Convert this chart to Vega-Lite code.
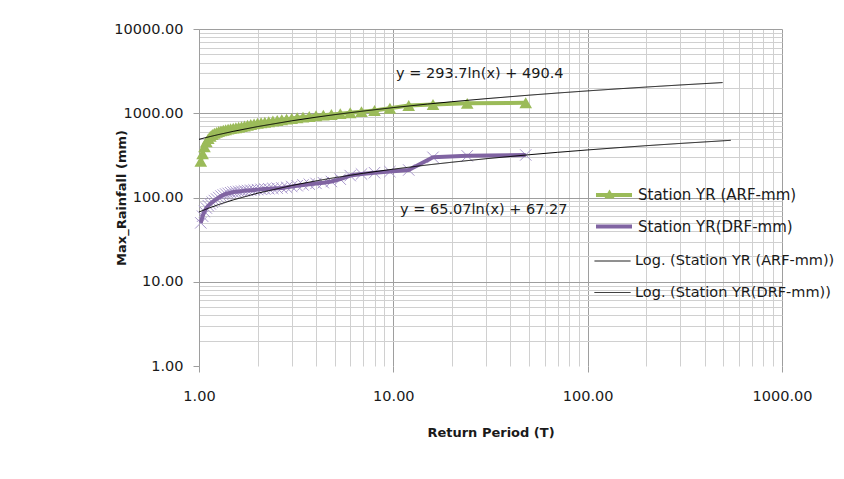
{
  "$schema": "https://vega.github.io/schema/vega-lite/v6.json",
  "width": 583,
  "height": 337,
  "autosize": {"type": "none"},
  "padding": {"left": 199, "top": 29, "right": 62, "bottom": 113},
  "background": "white",
  "config": {
    "view": {"stroke": null},
    "font": "DejaVu Sans"
  },
  "datasets": {
    "obs": [
      {"T": 48, "arf": 1330, "drf": 320},
      {"T": 24, "arf": 1310, "drf": 312},
      {"T": 16, "arf": 1270, "drf": 300},
      {"T": 12, "arf": 1235, "drf": 212},
      {"T": 9.6, "arf": 1145, "drf": 203},
      {"T": 8, "arf": 1080, "drf": 197},
      {"T": 6.8571, "arf": 1045, "drf": 190},
      {"T": 6, "arf": 1015, "drf": 182},
      {"T": 5.3333, "arf": 990, "drf": 165},
      {"T": 4.8, "arf": 968, "drf": 155},
      {"T": 4.3636, "arf": 950, "drf": 150},
      {"T": 4, "arf": 932, "drf": 147},
      {"T": 3.6923, "arf": 915, "drf": 144},
      {"T": 3.4286, "arf": 900, "drf": 141},
      {"T": 3.2, "arf": 885, "drf": 138},
      {"T": 3, "arf": 868, "drf": 135},
      {"T": 2.8235, "arf": 852, "drf": 132},
      {"T": 2.6667, "arf": 838, "drf": 130},
      {"T": 2.5263, "arf": 822, "drf": 129},
      {"T": 2.4, "arf": 808, "drf": 128},
      {"T": 2.2857, "arf": 793, "drf": 127},
      {"T": 2.1818, "arf": 782, "drf": 126},
      {"T": 2.087, "arf": 772, "drf": 125},
      {"T": 2, "arf": 762, "drf": 124},
      {"T": 1.92, "arf": 748, "drf": 123},
      {"T": 1.8462, "arf": 734, "drf": 122},
      {"T": 1.7778, "arf": 720, "drf": 121},
      {"T": 1.7143, "arf": 705, "drf": 120},
      {"T": 1.6552, "arf": 694, "drf": 119},
      {"T": 1.6, "arf": 683, "drf": 118},
      {"T": 1.5484, "arf": 674, "drf": 117},
      {"T": 1.5, "arf": 666, "drf": 116},
      {"T": 1.4545, "arf": 657, "drf": 114},
      {"T": 1.4118, "arf": 648, "drf": 112},
      {"T": 1.3714, "arf": 638, "drf": 110},
      {"T": 1.3333, "arf": 628, "drf": 107},
      {"T": 1.2973, "arf": 618, "drf": 104},
      {"T": 1.2632, "arf": 607, "drf": 100},
      {"T": 1.2308, "arf": 593, "drf": 96},
      {"T": 1.2, "arf": 578, "drf": 92},
      {"T": 1.1707, "arf": 558, "drf": 88},
      {"T": 1.1429, "arf": 532, "drf": 84},
      {"T": 1.1163, "arf": 500, "drf": 80},
      {"T": 1.0909, "arf": 458, "drf": 75},
      {"T": 1.0667, "arf": 400, "drf": 68},
      {"T": 1.0435, "arf": 330, "drf": 60},
      {"T": 1.0213, "arf": 270, "drf": 50}
    ],
    "fit": [
      {"series": "arf_log", "T": 1, "mm": 490.4},
      {"series": "arf_log", "T": 1.1, "mm": 518.4},
      {"series": "arf_log", "T": 1.25, "mm": 555.9},
      {"series": "arf_log", "T": 1.5, "mm": 609.5},
      {"series": "arf_log", "T": 2, "mm": 694.0},
      {"series": "arf_log", "T": 3, "mm": 813.1},
      {"series": "arf_log", "T": 4, "mm": 897.6},
      {"series": "arf_log", "T": 5, "mm": 963.1},
      {"series": "arf_log", "T": 7, "mm": 1061.9},
      {"series": "arf_log", "T": 10, "mm": 1166.7},
      {"series": "arf_log", "T": 15, "mm": 1285.8},
      {"series": "arf_log", "T": 20, "mm": 1370.3},
      {"series": "arf_log", "T": 30, "mm": 1489.3},
      {"series": "arf_log", "T": 50, "mm": 1639.4},
      {"series": "arf_log", "T": 70, "mm": 1738.2},
      {"series": "arf_log", "T": 100, "mm": 1842.9},
      {"series": "arf_log", "T": 150, "mm": 1962.0},
      {"series": "arf_log", "T": 200, "mm": 2046.5},
      {"series": "arf_log", "T": 300, "mm": 2165.6},
      {"series": "arf_log", "T": 495, "mm": 2312.7},
      {"series": "drf_log", "T": 1, "mm": 67.27},
      {"series": "drf_log", "T": 1.1, "mm": 73.47},
      {"series": "drf_log", "T": 1.25, "mm": 81.79},
      {"series": "drf_log", "T": 1.5, "mm": 93.65},
      {"series": "drf_log", "T": 2, "mm": 112.37},
      {"series": "drf_log", "T": 3, "mm": 138.76},
      {"series": "drf_log", "T": 4, "mm": 157.48},
      {"series": "drf_log", "T": 5, "mm": 172.0},
      {"series": "drf_log", "T": 7, "mm": 193.89},
      {"series": "drf_log", "T": 10, "mm": 217.1},
      {"series": "drf_log", "T": 15, "mm": 243.48},
      {"series": "drf_log", "T": 20, "mm": 262.2},
      {"series": "drf_log", "T": 30, "mm": 288.59},
      {"series": "drf_log", "T": 50, "mm": 321.83},
      {"series": "drf_log", "T": 70, "mm": 343.72},
      {"series": "drf_log", "T": 100, "mm": 366.93},
      {"series": "drf_log", "T": 150, "mm": 393.31},
      {"series": "drf_log", "T": 200, "mm": 412.03},
      {"series": "drf_log", "T": 300, "mm": 438.42},
      {"series": "drf_log", "T": 545, "mm": 477.26}
    ],
    "equations": [
      {"T": 10.33, "mm": 2923, "label": "y = 293.7ln(x) + 490.4"},
      {"T": 10.83, "mm": 71.1, "label": "y = 65.07ln(x) + 67.27"}
    ]
  },
  "encoding": {
    "x": {
      "field": "T",
      "type": "quantitative",
      "scale": {"type": "log", "domain": [1, 1000], "nice": false},
      "axis": {
        "title": "Return Period (T)",
        "values": [1, 2, 3, 4, 5, 6, 7, 8, 9, 10, 20, 30, 40, 50, 60, 70, 80, 90, 100, 200, 300, 400, 500, 600, 700, 800, 900, 1000],
        "labelExpr": "indexof([1, 10, 100, 1000], datum.value) >= 0 ? format(datum.value, '.2f') : ''",
        "labelFlush": false,
        "labelOverlap": false,
        "labelBound": false,
        "labelFont": "DejaVu Sans",
        "labelFontSize": 14.5,
        "labelColor": "#1a1a1a",
        "labelPadding": 17,
        "domain": false,
        "grid": true,
        "gridColor": {"condition": {"test": "indexof([1, 10, 100, 1000], datum.value) >= 0", "value": "#9e9e9e"}, "value": "#d0d0d0"},
        "gridWidth": 1,
        "tickSize": 6,
        "tickColor": {"condition": {"test": "indexof([1, 10, 100, 1000], datum.value) >= 0", "value": "#9e9e9e"}, "value": "transparent"},
        "titleFont": "DejaVu Sans",
        "titleFontSize": 13,
        "titleFontWeight": "bold",
        "titleColor": "#1a1a1a",
        "titleY": 66,
        "titleBaseline": "middle"
      }
    },
    "y": {
      "field": "mm",
      "type": "quantitative",
      "scale": {"type": "log", "domain": [1, 10000], "nice": false},
      "axis": {
        "title": "Max_Rainfall (mm)",
        "values": [1, 2, 3, 4, 5, 6, 7, 8, 9, 10, 20, 30, 40, 50, 60, 70, 80, 90, 100, 200, 300, 400, 500, 600, 700, 800, 900, 1000, 2000, 3000, 4000, 5000, 6000, 7000, 8000, 9000, 10000],
        "labelExpr": "indexof([1, 10, 100, 1000, 10000], datum.value) >= 0 ? format(datum.value, '.2f') : ''",
        "labelOverlap": false,
        "labelBound": false,
        "labelFlush": false,
        "labelFont": "DejaVu Sans",
        "labelFontSize": 14.5,
        "labelColor": "#1a1a1a",
        "labelPadding": 10,
        "domain": true,
        "domainColor": "#9e9e9e",
        "grid": true,
        "gridColor": {"condition": {"test": "indexof([1, 10, 100, 1000, 10000], datum.value) >= 0", "value": "#9e9e9e"}, "value": "#d0d0d0"},
        "gridOpacity": {"condition": {"test": "datum.value === 1", "value": 0}, "value": 1},
        "tickSize": 6,
        "tickColor": {"condition": {"test": "indexof([1, 10, 100, 1000, 10000], datum.value) >= 0", "value": "#9e9e9e"}, "value": "transparent"},
        "titleFont": "DejaVu Sans",
        "titleFontSize": 13,
        "titleFontWeight": "bold",
        "titleColor": "#1a1a1a",
        "titleX": -78,
        "titleY": 168.5,
        "titleBaseline": "middle",
        "titleAngle": 270
      }
    }
  },
  "layer": [
    {
      "data": {"name": "obs"},
      "transform": [{"fold": ["drf"], "as": ["series", "mm"]}],
      "mark": {
        "type": "point",
        "shape": "M-1,-1L1,1M-1,1L1,-1",
        "size": 130,
        "filled": false,
        "stroke": "#a897cc",
        "strokeWidth": 1,
        "opacity": 1
      },
      "encoding": {}
    },
    {
      "data": {"name": "obs"},
      "transform": [{"fold": ["arf", "drf"], "as": ["series", "mm"]}],
      "mark": {"type": "line", "strokeWidth": 4, "strokeJoin": "round"},
      "encoding": {
        "color": {
          "field": "series",
          "type": "nominal",
          "scale": {"domain": ["arf", "drf"], "range": ["#9bbb59", "#8064a2"]},
          "legend": {
            "title": null,
            "orient": "none",
            "legendX": 395,
            "legendY": 146,
            "padding": 0,
            "symbolType": "stroke",
            "symbolSize": 1296,
            "symbolStrokeWidth": 4,
            "rowPadding": 3.5,
            "labelOffset": 4,
            "labelFont": "DejaVu Sans",
            "labelFontSize": 15,
            "labelColor": "#1a1a1a",
            "labelLimit": 300,
            "labelExpr": "datum.value === 'arf' ? 'Station YR (ARF-mm)' : 'Station YR(DRF-mm)'"
          }
        }
      }
    },
    {
      "data": {"name": "obs"},
      "transform": [{"fold": ["arf"], "as": ["series", "mm"]}],
      "mark": {"type": "point", "size": 160, "filled": true, "color": "#9bbb59", "opacity": 1},
      "encoding": {
        "shape": {
          "field": "series",
          "type": "nominal",
          "scale": {"domain": ["arf"], "range": ["triangle-up"]},
          "legend": {
            "title": null,
            "orient": "none",
            "legendX": 405,
            "legendY": 159.5,
            "padding": 0,
            "symbolSize": 110,
            "symbolStrokeWidth": 0,
            "symbolFillColor": "#9bbb59",
            "labelExpr": "''",
            "labelFontSize": 1
          }
        }
      }
    },
    {
      "data": {"name": "fit"},
      "mark": {"type": "line", "strokeWidth": 1, "color": "#000000"},
      "encoding": {
        "strokeDash": {
          "field": "series",
          "type": "nominal",
          "scale": {"domain": ["arf_log", "drf_log"], "range": [[1, 0], [1, 0]]},
          "legend": {
            "title": null,
            "orient": "none",
            "legendX": 395,
            "legendY": 213.5,
            "padding": 0,
            "symbolType": "stroke",
            "symbolSize": 1296,
            "symbolStrokeWidth": 1,
            "symbolStrokeColor": "#000000",
            "rowPadding": 6.5,
            "labelOffset": 4,
            "labelFont": "DejaVu Sans",
            "labelFontSize": 14.5,
            "labelColor": "#1a1a1a",
            "labelLimit": 300,
            "labelExpr": "datum.value === 'arf_log' ? 'Log. (Station YR (ARF-mm))' : 'Log. (Station YR(DRF-mm))'"
          }
        }
      }
    },
    {
      "data": {"name": "equations"},
      "mark": {"type": "text", "align": "left", "baseline": "middle", "font": "DejaVu Sans", "fontSize": 14.5, "color": "#1a1a1a"},
      "encoding": {"text": {"field": "label", "type": "nominal"}}
    }
  ]
}
